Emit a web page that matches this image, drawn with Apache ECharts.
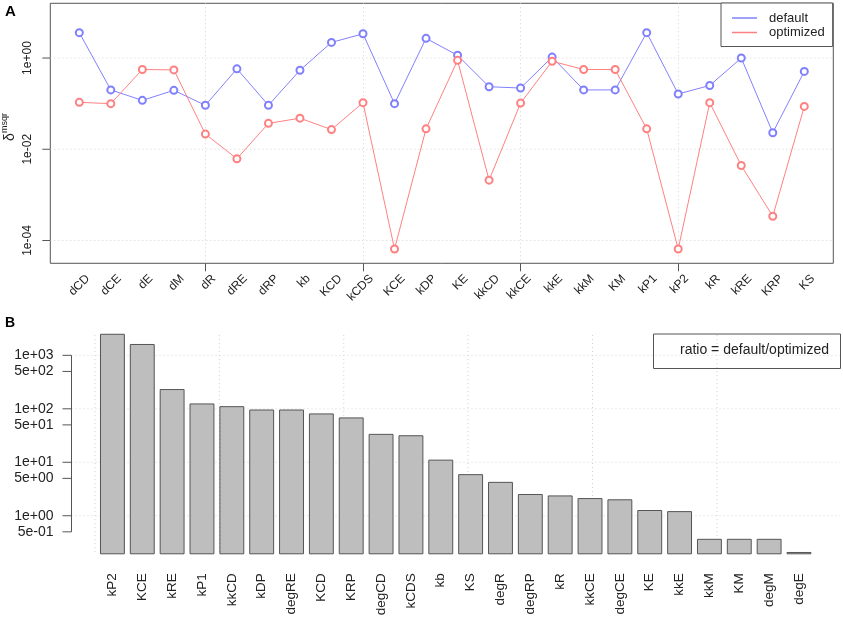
<!DOCTYPE html>
<html>
<head>
<meta charset="utf-8">
<script src="https://cdn.jsdelivr.net/npm/echarts@6/dist/echarts.min.js"></script>
<style>
  html, body { margin: 0; padding: 0; background: #fff; }
  #chart { width: 843px; height: 620px; }
</style>
</head>
<body>
<div id="chart"></div>
<script>
// ---- panel A : delta msqr, default vs optimized ----
var paramsA = ['dCD','dCE','dE','dM','dR','dRE','dRP','kb','KCD','kCDS','KCE','kDP',
               'KE','kkCD','kkCE','kkE','kkM','KM','kP1','kP2','kR','kRE','KRP','KS'];
var defaultA = [3.6, 0.2, 0.118, 0.196, 0.092, 0.58, 0.092, 0.54, 2.2, 3.4, 0.10, 2.7,
                1.15, 0.235, 0.22, 1.05, 0.2, 0.2, 3.6, 0.163, 0.25, 1.0, 0.023, 0.51];
var optimizedA = [0.107, 0.10, 0.56, 0.55, 0.0215, 0.0062, 0.037, 0.048, 0.027, 0.105, 6.5e-5, 0.028,
                  0.89, 0.0021, 0.103, 0.85, 0.56, 0.56, 0.028, 6.5e-5, 0.105, 0.0044, 3.4e-4, 0.087];
var ticksA = [1, 0.01, 0.0001];
var tickLabelsA = ['1e+00', '1e-02', '1e-04'];

// ---- panel B : ratio default/optimized ----
var paramsB = ['kP2','KCE','kRE','kP1','kkCD','kDP','degRE','KCD','KRP','degCD','kCDS','kb',
               'KS','degR','degRP','kR','kkCE','degCE','KE','kkE','kkM','KM','degM','degE'];
var ratioB = [2530, 1630, 234, 126, 112, 97, 97, 82, 69, 34, 32, 11.2,
              6.0, 4.3, 2.55, 2.4, 2.14, 2.03, 1.28, 1.22, 0.37, 0.37, 0.37, 0.21];
var ticksB = [1000, 500, 100, 50, 10, 5, 1, 0.5];
var tickLabelsB = ['1e+03','5e+02','1e+02','5e+01','1e+01','5e+00','1e+00','5e-01'];
var gridRowsB = [1000, 100, 10, 1];
var gridColsB = [0, 5, 10, 15, 20, 25];

var FONT = '"Liberation Sans", Arial, Helvetica, sans-serif';
var GRID_COLOR = '#d3d3d3';
var INK = '#222';

// axis ranges (log axes use real values)
var yMinA = Math.pow(10, -4.5), yMaxA = Math.pow(10, 1.2);
var yMinB = 0.19, yMaxB = 2400;
var xMinB = -0.944, xMaxB = 29.944;   // barplot user coords

function everyFifth(i) { return i % 5 === 4; }

function renderTicksA(params, api) {
  var cs = params.coordSys;
  var y = api.coord([0, api.value(1)])[1];
  return { type: 'group', children: [
    { type: 'line', shape: { x1: cs.x, y1: y, x2: cs.x + cs.width, y2: y },
      style: { stroke: GRID_COLOR, lineWidth: 1, lineDash: [1, 3] } },
    { type: 'line', shape: { x1: cs.x - 8, y1: y, x2: cs.x, y2: y },
      style: { stroke: '#555', lineWidth: 1 } },
    { type: 'text', x: cs.x - 23, y: y, rotation: Math.PI / 2,
      style: { text: tickLabelsA[params.dataIndex], align: 'center', verticalAlign: 'middle',
               font: '12px ' + FONT, fill: INK } }
  ]};
}

function renderTicksB(params, api) {
  var cs = params.coordSys;
  var y = api.coord([0, api.value(1)])[1];
  var kids = [
    { type: 'line', shape: { x1: cs.x - 9, y1: y, x2: cs.x, y2: y },
      style: { stroke: '#555', lineWidth: 1 } },
    { type: 'text', x: cs.x - 18, y: y,
      style: { text: tickLabelsB[params.dataIndex], align: 'right', verticalAlign: 'middle',
               font: '14px ' + FONT, fill: INK } }
  ];
  if (params.dataIndex === 0) {
    var yTop = api.coord([0, ticksB[0]])[1];
    var yBot = api.coord([0, ticksB[ticksB.length - 1]])[1];
    kids.push({ type: 'line', shape: { x1: cs.x, y1: yTop, x2: cs.x, y2: yBot },
                style: { stroke: '#555', lineWidth: 1 } });
  }
  return { type: 'group', children: kids };
}

function renderRowsB(params, api) {
  var cs = params.coordSys;
  var y = api.coord([0, api.value(1)])[1];
  return { type: 'line', shape: { x1: cs.x, y1: y, x2: cs.x + cs.width, y2: y },
           style: { stroke: GRID_COLOR, lineWidth: 1, lineDash: [1, 3] } };
}

function renderColsB(params, api) {
  var cs = params.coordSys;
  var x = api.coord([api.value(0), 1])[0];
  return { type: 'line', shape: { x1: x, y1: cs.y, x2: x, y2: cs.y + cs.height },
           style: { stroke: GRID_COLOR, lineWidth: 1, lineDash: [1, 3] } };
}

var chart = echarts.init(document.getElementById('chart'));

var option = {
  animation: false,
  backgroundColor: '#fff',
  textStyle: { fontFamily: FONT },
  legend: {
    orient: 'vertical', left: 721, top: 3,
    padding: [8, 8, 7, 11], itemWidth: 25, itemHeight: 1.5, itemGap: 0.5,
    icon: 'rect',
    borderColor: '#555', borderWidth: 1, backgroundColor: '#fff',
    textStyle: { fontSize: 13, fontFamily: FONT, color: INK, lineHeight: 14, padding: [0, 0, 0, 7] },
    data: ['default', 'optimized']
  },
  grid: [
    { left: 79.3, top: 3.3, width: 725, height: 260 },
    { left: 50.3, top: 3.3, width: 783, height: 260, show: true,
      borderColor: '#555', borderWidth: 1, backgroundColor: 'transparent' },
    { left: 97.5, top: 335, width: 716.4, height: 219.3 },
    { left: 71.5, top: 335, width: 768.4, height: 219.3 }
  ],
  xAxis: [
    { gridIndex: 0, type: 'category', data: paramsA, boundaryGap: false,
      axisLine: { show: false },
      axisTick: { show: true, interval: everyFifth, length: 8, lineStyle: { color: '#555' } },
      splitLine: { show: true, interval: everyFifth, lineStyle: { color: GRID_COLOR, type: [1, 3] } },
      axisLabel: { interval: 0, rotate: 45, margin: 5, fontSize: 12, color: INK, fontFamily: FONT,
                   align: 'right', verticalAlign: 'top', lineHeight: 24 } },
    { gridIndex: 1, type: 'value', min: 0, max: 1, show: false },
    { gridIndex: 2, type: 'category', data: paramsB,
      axisLine: { show: false }, axisTick: { show: false },
      axisLabel: { interval: 0, rotate: 90, margin: 19, fontSize: 13.5, color: INK, fontFamily: FONT } },
    { gridIndex: 3, type: 'value', min: xMinB, max: xMaxB, show: false }
  ],
  yAxis: [
    { gridIndex: 0, type: 'log', min: yMinA, max: yMaxA, show: false },
    { gridIndex: 1, type: 'log', min: yMinA, max: yMaxA, show: false },
    { gridIndex: 2, type: 'log', min: yMinB, max: yMaxB, startValue: yMinB, show: false },
    { gridIndex: 3, type: 'log', min: yMinB, max: yMaxB, show: false }
  ],
  series: [
    { name: 'axisA', type: 'custom', xAxisIndex: 1, yAxisIndex: 1, z: 1, silent: true, clip: false,
      data: ticksA.map(function (v) { return [0, v]; }), renderItem: renderTicksA },
    { name: 'default', type: 'line', xAxisIndex: 0, yAxisIndex: 0, data: defaultA,
      color: '#8080ff', symbol: 'emptyCircle', symbolSize: 7, z: 3,
      lineStyle: { width: 1 }, itemStyle: { borderWidth: 1 } },
    { name: 'optimized', type: 'line', xAxisIndex: 0, yAxisIndex: 0, data: optimizedA,
      color: '#ff8080', symbol: 'emptyCircle', symbolSize: 7, z: 3,
      lineStyle: { width: 1 }, itemStyle: { borderWidth: 1 } },
    { name: 'rowsB', type: 'custom', xAxisIndex: 3, yAxisIndex: 3, z: 1, silent: true, clip: false,
      data: gridRowsB.map(function (v) { return [0, v]; }), renderItem: renderRowsB },
    { name: 'colsB', type: 'custom', xAxisIndex: 3, yAxisIndex: 3, z: 1, silent: true, clip: false,
      data: gridColsB.map(function (v) { return [v, 1]; }), renderItem: renderColsB },
    { name: 'axisB', type: 'custom', xAxisIndex: 3, yAxisIndex: 3, z: 1, silent: true, clip: false,
      data: ticksB.map(function (v) { return [0, v]; }), renderItem: renderTicksB },
    { name: 'ratio', type: 'bar', xAxisIndex: 2, yAxisIndex: 2, data: ratioB, z: 2,
      barWidth: 24.9, clip: false,
      itemStyle: { color: '#bebebe', borderColor: '#555', borderWidth: 1 } }
  ],
  graphic: [
    { type: 'text', left: 5, top: 4,
      style: { text: 'A', font: 'bold 15px ' + FONT, fill: '#000' } },
    { type: 'text', left: 5, top: 316,
      style: { text: 'B', font: 'bold 14px ' + FONT, fill: '#000' } },
    { type: 'text', x: 10, y: 127, rotation: Math.PI / 2,
      style: { text: '{d|δ}{s|msqr}', align: 'center', verticalAlign: 'middle', fill: INK,
               rich: { d: { fontSize: 14, lineHeight: 20, fontFamily: FONT, fill: INK },
                       s: { fontSize: 9, lineHeight: 10, verticalAlign: 'top', fontFamily: FONT, fill: INK } } } },
    { type: 'rect', left: 653, top: 333.5,
      shape: { width: 187, height: 34.5 },
      style: { fill: '#fff', stroke: '#555', lineWidth: 1 } },
    { type: 'text', left: 680, top: 343,
      style: { text: 'ratio = default/optimized', font: '14px ' + FONT, fill: INK } }
  ]
};

chart.setOption(option);
</script>
</body>
</html>
